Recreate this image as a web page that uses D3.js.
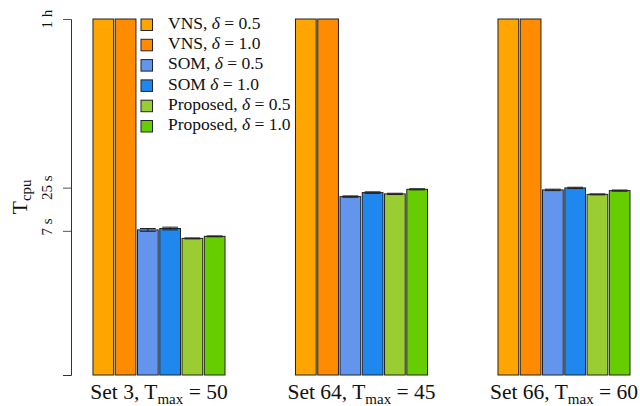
<!DOCTYPE html>
<html><head><meta charset="utf-8">
<script src="https://cdn.jsdelivr.net/npm/d3@7"></script>
<style>
body{margin:0;background:#fff;}
</style></head>
<body><svg id="c" width="640" height="406"></svg>
<script>
const groups = ["Set 3", "Set 64", "Set 66"];
const tmaxValues = [50, 45, 60];
const seriesNames = ["VNS, δ = 0.5", "VNS, δ = 1.0", "SOM, δ = 0.5", "SOM δ = 1.0", "Proposed, δ = 0.5", "Proposed, δ = 1.0"];
const seriesColors = ["#FFA500", "#FF8C00", "#6495ED", "#1E88EE", "#9ACD32", "#66CD00"];
// CPU time in seconds per group
const vns05 = [3600, 3600, 3600];
const vns10 = [3600, 3600, 3600];
const som05 = [7.2, 19.2, 23.4];
const som10 = [7.5, 21.6, 24.8];
const prop05 = [5.6, 20.8, 20.5];
const prop10 = [5.95, 23.8, 22.9];
// error (seconds, +/-)
const errs = [[0,0,0],[0,0,0],[0.3,0.4,0.5],[0.3,0.5,0.5],[0.08,0.4,0.3],[0.08,0.4,0.4]];
const yTicks = [3600, 25, 7];
const yTickLabels = ["1 h", "25 s", "7 s"];
const seriesValues = [vns05, vns10, som05, som10, prop05, prop10];

const FF = "'Liberation Serif', 'Times New Roman', 'DejaVu Serif', serif";
const svg = d3.select("#c").attr("font-family", FF);
const y = d3.scaleLog().domain([0.1, 3600]).range([375, 19]);
const x0 = d3.scaleBand().domain(groups).range([22.5, 700.5]).paddingInner(0.348).paddingOuter(0.348);
const x1 = d3.scaleBand().domain(d3.range(seriesNames.length)).range([0, x0.bandwidth()]).paddingInner(0.07).paddingOuter(0.0);

// bars
groups.forEach((g, gi) => {
  seriesValues.forEach((vals, si) => {
    const bx = x0(g) + x1(si);
    svg.append("rect")
      .attr("x", bx).attr("y", y(vals[gi]))
      .attr("width", x1.bandwidth()).attr("height", y(0.1) - y(vals[gi]))
      .attr("fill", seriesColors[si]).attr("stroke", "#222").attr("stroke-width", 1);
    const e = errs[si][gi];
    if (e > 0) {
      const cx = bx + x1.bandwidth() / 2, hw = x1.bandwidth() * 0.38;
      const yt = y(vals[gi] + e), yb = y(vals[gi] - e);
      const eg = svg.append("g").attr("stroke", "#222").attr("stroke-width", 1);
      eg.append("line").attr("x1", cx).attr("x2", cx).attr("y1", yt).attr("y2", yb);
      eg.append("line").attr("x1", cx - hw).attr("x2", cx + hw).attr("y1", yt).attr("y2", yt);
      eg.append("line").attr("x1", cx - hw).attr("x2", cx + hw).attr("y1", yb).attr("y2", yb);
    }
  });
});

// y axis
const ax = svg.append("g").attr("transform", "translate(71,0)")
  .call(d3.axisLeft(y).tickValues(yTicks).tickSize(8).tickSizeOuter(8)
    .tickFormat((d, i) => yTickLabels[i]));
ax.attr("font-family", FF);
ax.select(".domain").attr("stroke", "#333");
ax.selectAll(".tick line").attr("stroke", "#555");
ax.selectAll(".tick text").remove();
yTicks.forEach((v, i) => {
  svg.append("text").attr("transform", `translate(52,${y(v) - (i === 2 ? 4 : 0)}) rotate(-90)`)
    .attr("font-family", FF)
    .attr("text-anchor", "middle").attr("font-size", 15).attr("fill", "#111")
    .text(yTickLabels[i]);
});

// y title
const yt = svg.append("text").attr("transform", "translate(27,197) rotate(-90)")
  .attr("font-family", FF)
  .attr("text-anchor", "middle").attr("font-size", 22).attr("fill", "#111");
yt.append("tspan").text("T");
yt.append("tspan").attr("font-size", 15).attr("dy", 4).text("cpu");

// x group labels
groups.forEach((g, gi) => {
  const t = svg.append("text").attr("x", x0(g) + x0.bandwidth() / 2).attr("y", 399)
    .attr("font-family", FF)
    .attr("text-anchor", "middle").attr("font-size", 21.5).attr("fill", "#111");
  t.append("tspan").text(g + ", T");
  t.append("tspan").attr("font-size", 15).attr("dy", 5).text("max");
  t.append("tspan").attr("dy", -5).text(" = " + tmaxValues[gi]);
});

// legend
svg.append("rect").attr("x", 137).attr("y", 12).attr("width", 157).attr("height", 128).attr("fill", "#fff");
seriesNames.forEach((n, i) => {
  const ly = 25 + i * 20.3;
  svg.append("rect").attr("x", 141).attr("y", ly - 6).attr("width", 11.5).attr("height", 11.5)
    .attr("fill", seriesColors[i]).attr("stroke", "#222").attr("stroke-width", 1);
  const parts = n.split("δ");
  const t = svg.append("text").attr("x", 168).attr("y", ly + 3.8).attr("font-family", FF)
    .attr("font-size", 17.5).attr("fill", "#111");
  t.append("tspan").text(parts[0]);
  t.append("tspan").attr("font-style", "italic").text("δ");
  t.append("tspan").text(parts[1]);
});
</script></body></html>
